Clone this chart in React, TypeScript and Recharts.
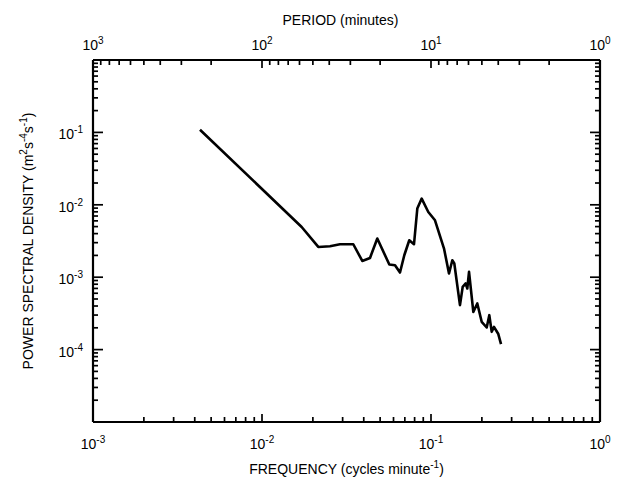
import React from 'react';
import { LineChart, Line, XAxis, YAxis, Label } from 'recharts';

// Frequency (cycles per minute) and power spectral density (m^2 s^-4 s^-1)
const frequency = [
  0.004296, 0.01717, 0.02153, 0.02526, 0.02893, 0.03469, 0.03921, 0.04356, 0.04811,
  0.05667, 0.06124, 0.06554, 0.0695, 0.07437, 0.07932, 0.08298, 0.0881, 0.09638,
  0.1056, 0.1194, 0.1278, 0.1337, 0.1374, 0.1484, 0.154, 0.1604, 0.164, 0.1679,
  0.178, 0.1879, 0.1995, 0.2136, 0.2213, 0.2287, 0.2359, 0.2502, 0.2596,
];
const psd = [
  0.109, 0.004941, 0.002618, 0.002677, 0.002852, 0.002852, 0.001678, 0.001846, 0.003419,
  0.001497, 0.001464, 0.001161, 0.002011, 0.003238, 0.002852, 0.008864, 0.01218, 0.007957,
  0.006111, 0.002488, 0.001125, 0.001716, 0.001545, 0.000411, 0.000735, 0.000819, 0.000698, 0.001183,
  0.000332, 0.000434, 0.000242, 0.000202, 0.000299, 0.000176, 0.000206, 0.000164, 0.000119,
];

const freqDecades = [-3, -2, -1, 0];
const psdDecades = [-5, -4, -3, -2, -1, 0];
const periodDecades = [0, 1, 2, 3];
const minorMultipliers = [1, 2, 3, 4, 5, 6, 7, 8, 9];

const data = frequency.map((f, i) => ({ f, p: psd[i] }));

const buildTicks = (decades: number[]) => {
  const out: number[] = [];
  const lo = Math.min(...decades);
  const hi = Math.max(...decades);
  for (let k = lo; k < hi; k++) {
    for (const m of minorMultipliers) out.push(m * Math.pow(10, k));
  }
  out.push(Math.pow(10, hi));
  return out;
};

const bottomTicks = buildTicks(freqDecades);
const leftTicks = buildTicks(psdDecades);
const topTicks = buildTicks(periodDecades).map((p) => 1 / p).sort((a, b) => a - b);

const FONT = '"Liberation Sans", Arial, Helvetica, sans-serif';
const TICK_W = 1.7;

const isDecade = (v: number) => {
  const l = Math.log10(v);
  return Math.abs(l - Math.round(l)) < 1e-6;
};

const Pow = ({ x, y, exp, anchor }: any) => (
  <text x={x} y={y} textAnchor={anchor} fontFamily={FONT} fontSize={14} fill="#000">
    10
    <tspan dy={-6} fontSize={10}>{exp}</tspan>
  </text>
);

const BottomTick = (props: any) => {
  const { x, y, payload } = props;
  const v = payload.value;
  const major = isDecade(v);
  return (
    <g>
      <line x1={x} x2={x} y1={y} y2={y - (major ? 8 : 5)} stroke="#000" strokeWidth={TICK_W} />
      {major && <Pow x={x} y={y + 27} exp={Math.round(Math.log10(v))} anchor="middle" />}
    </g>
  );
};

const TopTick = (props: any) => {
  const { x, y, payload } = props;
  const period = 1 / payload.value;
  const major = isDecade(period);
  return (
    <g>
      <line x1={x} x2={x} y1={y} y2={y + (major ? 8 : 5)} stroke="#000" strokeWidth={TICK_W} />
      {major && <Pow x={x} y={y - 10} exp={Math.round(Math.log10(period))} anchor="middle" />}
    </g>
  );
};

const LeftTick = (props: any) => {
  const { x, y, payload } = props;
  const v = payload.value;
  const major = isDecade(v);
  const e = Math.round(Math.log10(v));
  return (
    <g>
      <line x1={x} x2={x + (major ? 10 : 5)} y1={y} y2={y} stroke="#000" strokeWidth={TICK_W} />
      {major && e < 0 && e > -5 && <Pow x={x - 10} y={y + 7} exp={e} anchor="end" />}
    </g>
  );
};

const RightTick = (props: any) => {
  const { x, y, payload } = props;
  const major = isDecade(payload.value);
  return <line x1={x} x2={x - (major ? 10 : 5)} y1={y} y2={y} stroke="#000" strokeWidth={TICK_W} />;
};

const TopTitle = (props: any) => {
  const vb = props.viewBox || {};
  return (
    <text x={vb.x + vb.width / 2 - 6} y={17} textAnchor="middle" fontFamily={FONT} fontSize={14} fill="#000">
      PERIOD (minutes)
    </text>
  );
};

const BottomTitle = (props: any) => {
  const vb = props.viewBox || {};
  return (
    <text x={vb.x + vb.width / 2} y={vb.y + 52} textAnchor="middle" fontFamily={FONT} fontSize={14} fill="#000">
      FREQUENCY (cycles minute
      <tspan dy={-6} fontSize={10}>-1</tspan>
      <tspan dy={6}>)</tspan>
    </text>
  );
};

const LeftTitle = (props: any) => {
  const vb = props.viewBox || {};
  const cx = 25;
  const cy = vb.y + vb.height / 2;
  return (
    <text
      x={cx}
      y={cy}
      transform={`rotate(-90 ${cx} ${cy})`}
      textAnchor="middle"
      fontFamily={FONT}
      fontSize={14}
      fill="#000"
    >
      POWER SPECTRAL DENSITY (m
      <tspan dy={-6} fontSize={10}>2</tspan>
      <tspan dy={6}>s</tspan>
      <tspan dy={-6} fontSize={10}>-4</tspan>
      <tspan dy={6}>s</tspan>
      <tspan dy={-6} fontSize={10}>-1</tspan>
      <tspan dy={6}>)</tspan>
    </text>
  );
};

const axisLine = { stroke: '#000', strokeWidth: 2.2 };

export default function App() {
  return (
    <div style={{ width: 618, height: 477, background: '#fff' }}>
      <LineChart width={618} height={477} data={data} margin={{ top: 0, right: 0, bottom: 0, left: 0 }}>
        <XAxis
          xAxisId="bottom"
          dataKey="f"
          type="number"
          scale="log"
          domain={[0.001, 1]}
          allowDataOverflow
          ticks={bottomTicks}
          interval={0}
          orientation="bottom"
          height={63}
          tickSize={0}
          tickMargin={0}
          tickLine={false}
          axisLine={axisLine}
          tick={<BottomTick />}
        >
          <Label content={<BottomTitle />} />
        </XAxis>
        <XAxis
          xAxisId="top"
          dataKey="f"
          type="number"
          scale="log"
          domain={[0.001, 1]}
          allowDataOverflow
          ticks={topTicks}
          interval={0}
          orientation="top"
          height={52}
          tickSize={0}
          tickMargin={0}
          tickLine={false}
          axisLine={axisLine}
          tick={<TopTick />}
        >
          <Label content={<TopTitle />} />
        </XAxis>
        <YAxis
          yAxisId="left"
          type="number"
          scale="log"
          domain={[0.00001, 1]}
          allowDataOverflow
          ticks={leftTicks}
          interval={0}
          orientation="left"
          width={85}
          tickSize={0}
          tickMargin={0}
          tickLine={false}
          axisLine={axisLine}
          tick={<LeftTick />}
        >
          <Label content={<LeftTitle />} />
        </YAxis>
        <YAxis
          yAxisId="right"
          type="number"
          scale="log"
          domain={[0.00001, 1]}
          allowDataOverflow
          ticks={leftTicks}
          interval={0}
          orientation="right"
          width={26}
          tickSize={0}
          tickMargin={0}
          tickLine={false}
          axisLine={axisLine}
          tick={<RightTick />}
        />
        <Line
          xAxisId="top"
          yAxisId="right"
          dataKey="p"
          stroke="none"
          strokeWidth={0}
          dot={false}
          activeDot={false}
          legendType="none"
          isAnimationActive={false}
        />
        <Line
          xAxisId="bottom"
          yAxisId="left"
          dataKey="p"
          stroke="#000"
          strokeWidth={2.6}
          dot={false}
          isAnimationActive={false}
          strokeLinejoin="round"
        />
      </LineChart>
    </div>
  );
}
